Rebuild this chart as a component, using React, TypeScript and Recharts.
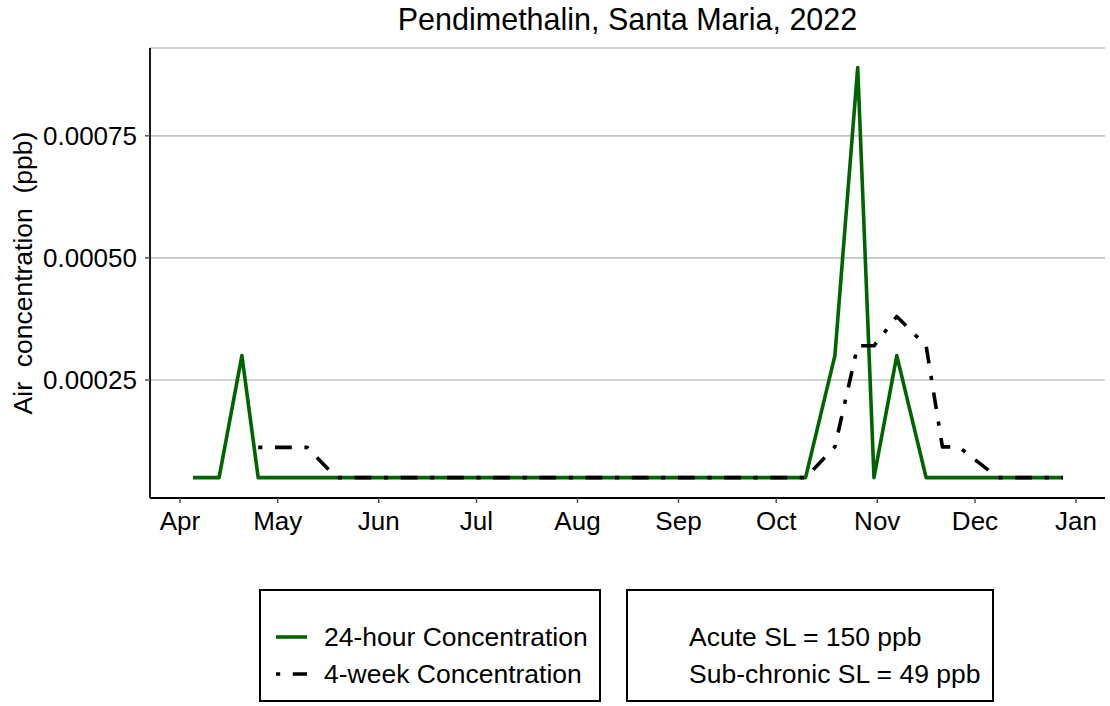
import React from 'react'
import { LineChart, Line, XAxis, YAxis, CartesianGrid } from 'recharts'

const FONT = '"Liberation Sans", Arial, Helvetica, sans-serif'
const DAY = 86400000

// 24-hour samples
const dailyDates = ['2022-04-05', '2022-04-13', '2022-04-20', '2022-04-25', '2022-05-10', '2022-05-19', '2022-10-10', '2022-10-19', '2022-10-26', '2022-10-31', '2022-11-07', '2022-11-16', '2022-11-21', '2022-11-26', '2022-12-08', '2022-12-28']
const dailyValues = [0.00005, 0.00005, 0.0003, 0.00005, 0.00005, 0.00005, 0.00005, 0.0003, 0.00089, 0.00005, 0.0003, 0.00005, 0.00005, 0.00005, 0.00005, 0.00005]

// 4-week values
const fourWeekDates = ['2022-04-25', '2022-05-10', '2022-05-19', '2022-10-10', '2022-10-19', '2022-10-26', '2022-10-31', '2022-11-07', '2022-11-16', '2022-11-21', '2022-11-26', '2022-12-08', '2022-12-28']
const fourWeekValues = [0.000112, 0.000112, 0.00005, 0.00005, 0.000113, 0.00032, 0.00032, 0.00038, 0.00032, 0.000113, 0.000113, 0.00005, 0.00005]

const monthTickDates = ['2022-04-01', '2022-05-01', '2022-06-01', '2022-07-01', '2022-08-01', '2022-09-01', '2022-10-01', '2022-11-01', '2022-12-01', '2023-01-01']
const monthLabels = ['Apr', 'May', 'Jun', 'Jul', 'Aug', 'Sep', 'Oct', 'Nov', 'Dec', 'Jan']
const yTicks = [0.00025, 0.0005, 0.00075]

const legendLabels = ['24-hour Concentration', '4-week Concentration']
const slLabels = ['Acute SL = 150 ppb', 'Sub-chronic SL = 49 ppb']

const ts = (d: string) => new Date(d + 'T00:00:00Z').getTime()
const dailyData = dailyDates.map((d, i) => ({ t: ts(d), v: dailyValues[i] }))
const fourWeekData = fourWeekDates.map((d, i) => ({ t: ts(d), v: fourWeekValues[i] }))
const monthTicks = monthTickDates.map(ts)

const start = ts('2022-04-01')
const xDomain = [start - 9.2 * DAY, start + 283.9 * DAY]

const GREEN = '#006400'
const DOTDASH = '4.2 12.6 16.8 12.6'

const tickStyle = { fontSize: 26, fill: '#000', fontFamily: FONT }

export default function App() {
  const monthFmt = (t: number) => monthLabels[monthTicks.indexOf(t)] ?? ''
  return (
    <div style={{ position: 'absolute', left: 0, top: 0, width: 1110, height: 706, background: '#fff', fontFamily: FONT }}>
      <LineChart width={1110} height={706} data={dailyData} margin={{ top: 48, right: 5, left: 0, bottom: 168 }}>
        <CartesianGrid vertical={false} stroke="#c4c4c4" strokeWidth={1.6} />
        <XAxis dataKey="t" type="number" domain={xDomain} ticks={monthTicks} tickFormatter={monthFmt}
          height={40} tick={tickStyle} tickSize={5} tickMargin={9}
          axisLine={{ stroke: '#000', strokeWidth: 1.8 }} tickLine={{ stroke: '#555', strokeWidth: 1.5 }} allowDataOverflow />
        <YAxis type="number" domain={[0.0000082, 0.00093]} ticks={yTicks} tickFormatter={(v: number) => v.toFixed(5)}
          width={150} tick={tickStyle} tickSize={5} tickMargin={8}
          axisLine={{ stroke: '#000', strokeWidth: 1.8 }} tickLine={{ stroke: '#555', strokeWidth: 1.5 }} allowDataOverflow />
        <Line data={dailyData} dataKey="v" type="linear" stroke={GREEN} strokeWidth={3.6} strokeLinejoin="round"
          dot={false} activeDot={false} isAnimationActive={false} />
        <Line data={fourWeekData} dataKey="v" type="linear" stroke="#000" strokeWidth={3.6} strokeDasharray={DOTDASH}
          strokeLinejoin="round" dot={false} activeDot={false} isAnimationActive={false} />
      </LineChart>

      {/* title */}
      <div style={{ position: 'absolute', left: 150, width: 955, top: 1, textAlign: 'center', fontSize: 30.5, color: '#000', lineHeight: '36px' }}>
        Pendimethalin, Santa Maria, 2022
      </div>

      {/* y axis title */}
      <div style={{ position: 'absolute', left: 23, top: 273, transform: 'translate(-50%, -50%) rotate(-90deg)', whiteSpace: 'pre', fontSize: 26.5, color: '#000', lineHeight: '30px' }}>
        {'Air  concentration  (ppb)'}
      </div>

      {/* series legend */}
      <div style={{ position: 'absolute', left: 259, top: 589, width: 338, height: 109, border: '2.5px solid #000' }}>
        {legendLabels.map((lab, i) => (
          <div key={lab} style={{ position: 'absolute', left: 0, top: 28 + i * 37, height: 36, display: 'flex', alignItems: 'center' }}>
            <svg width={60} height={36} style={{ display: 'block' }}>
              <line x1={15} x2={46} y1={18} y2={18} stroke={i === 0 ? GREEN : '#000'} strokeWidth={3.6}
                strokeDasharray={i === 0 ? undefined : DOTDASH} />
            </svg>
            <span style={{ fontSize: 26.5, color: '#000', marginLeft: 3, whiteSpace: 'nowrap' }}>{lab}</span>
          </div>
        ))}
      </div>

      {/* screening level box */}
      <div style={{ position: 'absolute', left: 626, top: 589, width: 364, height: 109, border: '2.5px solid #000' }}>
        {slLabels.map((lab, i) => (
          <div key={lab} style={{ position: 'absolute', left: 61, top: 28 + i * 37, height: 36, display: 'flex', alignItems: 'center', fontSize: 26.5, color: '#000', whiteSpace: 'nowrap' }}>
            {lab}
          </div>
        ))}
      </div>
    </div>
  )
}
